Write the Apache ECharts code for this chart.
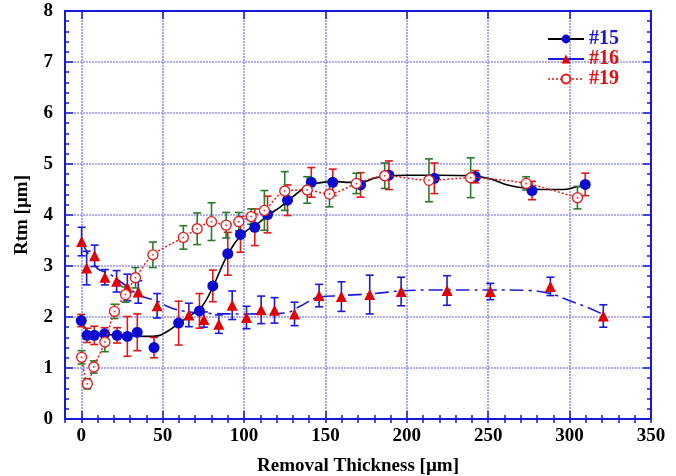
<!DOCTYPE html>
<html>
<head>
<meta charset="utf-8">
<script src="https://cdn.jsdelivr.net/npm/echarts@6/dist/echarts.min.js"></script>
<style>
  html, body { margin: 0; padding: 0; background: #fff; }
  #main { width: 676px; height: 476px; }
</style>
</head>
<body>
<div id="main"></div>
<script>
// #15 : blue dots, red error bars
var s15X = [0, 3.5, 8, 14.3, 22, 28.3, 34.4, 44.7, 59.8, 72.6, 80.8, 90, 97.8, 106.6, 114.4, 126.7, 141.3, 154.5, 171.6, 189, 216.9, 242.1, 276.9, 309.6];
var s15Y = [1.93, 1.64, 1.64, 1.67, 1.64, 1.62, 1.70, 1.40, 1.88, 2.12, 2.61, 3.24, 3.62, 3.76, 4.01, 4.29, 4.64, 4.64, 4.59, 4.78, 4.72, 4.75, 4.48, 4.60];
var s15Err = [0.12, 0.14, 0.18, 0.12, 0.15, 0.39, 0.36, 0.2, 0.43, 0.34, 0.31, 0.42, 0.35, 0.36, 0.36, 0.3, 0.29, 0.26, 0.24, 0.28, 0.30, 0.12, 0.18, 0.22];

// #16 : red triangles, blue error bars
var s16X = [0.2, 3.3, 8.2, 14.5, 21.7, 28.3, 35, 46.6, 66.1, 75.3, 84.5, 92.7, 101.5, 110.5, 118.7, 131, 146.1, 159.8, 177.2, 196.5, 224.7, 251.3, 288.2, 320.7];
var s16Y = [3.48, 2.96, 3.20, 2.78, 2.70, 2.58, 2.49, 2.22, 2.04, 1.95, 1.86, 2.23, 1.99, 2.14, 2.13, 2.06, 2.42, 2.40, 2.44, 2.50, 2.52, 2.50, 2.60, 2.02];
var s16Err = [0.28, 0.33, 0.21, 0.15, 0.21, 0.26, 0.22, 0.24, 0.23, 0.15, 0.18, 0.28, 0.22, 0.27, 0.25, 0.23, 0.22, 0.29, 0.38, 0.28, 0.29, 0.16, 0.18, 0.22];

// #19 : open red circles, green error bars
var s19X = [0.2, 3.7, 7.7, 14.5, 20.4, 27.2, 33.3, 44, 62.7, 71.2, 80, 89, 96.8, 104.4, 112.5, 125, 138.8, 152.5, 169, 186.4, 213.6, 239.2, 273.3, 304.8];
var s19Y = [1.21, 0.69, 1.02, 1.51, 2.11, 2.44, 2.77, 3.22, 3.56, 3.73, 3.87, 3.80, 3.87, 3.97, 4.09, 4.47, 4.49, 4.41, 4.62, 4.77, 4.68, 4.73, 4.62, 4.34];
var s19Err = [0.13, 0.1, 0.12, 0.19, 0.14, 0.15, 0.2, 0.25, 0.23, 0.31, 0.37, 0.25, 0.18, 0.15, 0.39, 0.38, 0.26, 0.25, 0.2, 0.25, 0.42, 0.39, 0.13, 0.22];

// fitted curves
var fit15X = [0, 3, 7, 12, 20, 30, 40, 47, 53, 60, 67, 74, 81, 88, 95, 101, 108, 115, 122, 130, 138, 146, 155, 165, 172, 180, 188, 200, 220, 240, 252, 262, 272, 285, 296, 304, 310];
var fit15Y = [1.93, 1.75, 1.67, 1.66, 1.65, 1.64, 1.62, 1.63, 1.72, 1.88, 2.03, 2.2, 2.6, 3.1, 3.48, 3.68, 3.82, 4.0, 4.15, 4.36, 4.55, 4.63, 4.66, 4.64, 4.64, 4.72, 4.77, 4.78, 4.78, 4.77, 4.70, 4.59, 4.53, 4.50, 4.50, 4.55, 4.58];
var fit16X = [0, 5, 10, 17, 28, 36, 46, 55, 64, 80, 100, 125, 135, 145, 160, 180, 200, 220, 250, 275, 288, 300, 310, 322];
var fit16Y = [3.48, 3.2, 2.95, 2.85, 2.6, 2.42, 2.32, 2.18, 2.11, 2.07, 2.06, 2.08, 2.22, 2.38, 2.42, 2.46, 2.52, 2.53, 2.53, 2.52, 2.46, 2.32, 2.2, 2.03];

var xMajor = [0, 50, 100, 150, 200, 250, 300, 350];

var AX = '#1818d8';
var FONT = '"Liberation Serif", "Times New Roman", serif';

function pairs(xs, ys) { return xs.map(function (x, i) { return [x, ys[i]]; }); }
function triples(xs, ys, es) { return xs.map(function (x, i) { return [x, ys[i], es[i]]; }); }

function errBar(color) {
  return function (params, api) {
    var x = api.value(0), y = api.value(1), e = api.value(2);
    var t = api.coord([x, y + e]), b = api.coord([x, y - e]);
    var st = { stroke: color, lineWidth: 1.6 };
    return {
      type: 'group',
      children: [
        { type: 'line', shape: { x1: t[0], y1: t[1], x2: b[0], y2: b[1] }, style: st },
        { type: 'line', shape: { x1: t[0] - 4, y1: t[1], x2: t[0] + 4, y2: t[1] }, style: st },
        { type: 'line', shape: { x1: b[0] - 4, y1: b[1], x2: b[0] + 4, y2: b[1] }, style: st }
      ]
    };
  };
}

var gridLine = { show: true, lineStyle: { color: '#9494ec', width: 1.6, type: [2, 1] } };

var myChart = echarts.init(document.getElementById('main'));
var option = {
  animation: false,
  backgroundColor: '#fff',
  grid: { left: 65, right: 25, top: 11, bottom: 57, show: false, containLabel: false, outerBoundsMode: 'none' },
  legend: {
    orient: 'vertical', left: 542, top: 24,
    itemWidth: 36, itemHeight: 11, itemGap: 0,
    textStyle: { fontFamily: FONT, fontWeight: 'bold', fontSize: 20 },
    data: [
      { name: '#15', textStyle: { color: '#1a1ad0' }, lineStyle: { color: '#000', width: 2, opacity: 1, type: 'solid' } },
      { name: '#16', textStyle: { color: '#e01010' }, lineStyle: { color: '#1a1ad8', width: 2, opacity: 1, type: 'solid' } },
      { name: '#19', textStyle: { color: '#e01010' }, lineStyle: { color: '#e01010', width: 1.5, opacity: 1, type: [2, 2] } }
    ]
  },
  xAxis: [
    {
      type: 'value', position: 'bottom', min: -10, max: 350,
      name: 'Removal Thickness [µm]', nameLocation: 'middle', nameGap: 38,
      nameTextStyle: { fontFamily: FONT, fontWeight: 'bold', fontSize: 19, color: '#000' },
      axisLine: { show: true, onZero: false, lineStyle: { color: AX, width: 2 } },
      axisTick: { show: true, inside: true, length: 8, customValues: xMajor, lineStyle: { color: AX, width: 1.5 } },
      axisLabel: { customValues: xMajor, margin: 8, fontFamily: FONT, fontWeight: 'bold', fontSize: 19, color: '#000' },
      splitLine: gridLine
    },
    {
      type: 'value', position: 'bottom', min: -10, max: 350, interval: 10,
      axisLine: { show: false }, axisLabel: { show: false }, splitLine: { show: false },
      axisTick: { show: true, inside: true, length: 4, lineStyle: { color: AX, width: 1.5 } }
    },
    {
      type: 'value', position: 'top', min: -10, max: 350,
      axisLine: { show: true, onZero: false, lineStyle: { color: AX, width: 2 } },
      axisTick: { show: true, inside: true, length: 8, customValues: xMajor, lineStyle: { color: AX, width: 1.5 } },
      axisLabel: { show: false }, splitLine: { show: false }
    },
    {
      type: 'value', position: 'top', min: -10, max: 350, interval: 10,
      axisLine: { show: false }, axisLabel: { show: false }, splitLine: { show: false },
      axisTick: { show: true, inside: true, length: 4, lineStyle: { color: AX, width: 1.5 } }
    }
  ],
  yAxis: [
    {
      type: 'value', position: 'left', min: 0, max: 8, interval: 1,
      name: 'Rtm [µm]', nameLocation: 'middle', nameGap: 33,
      nameTextStyle: { fontFamily: FONT, fontWeight: 'bold', fontSize: 19, color: '#000' },
      axisLine: { show: true, onZero: false, lineStyle: { color: AX, width: 2 } },
      axisTick: { show: true, inside: true, length: 8, lineStyle: { color: AX, width: 1.5 } },
      minorTick: { show: true, splitNumber: 5, length: 4, lineStyle: { color: AX, width: 1.5 } },
      axisLabel: { margin: 12, padding: [8, 0, 0, 0], fontFamily: FONT, fontWeight: 'bold', fontSize: 19, color: '#000' },
      splitLine: gridLine
    },
    {
      type: 'value', position: 'right', min: 0, max: 8, interval: 1,
      axisLine: { show: true, onZero: false, lineStyle: { color: AX, width: 2 } },
      axisTick: { show: true, inside: true, length: 8, lineStyle: { color: AX, width: 1.5 } },
      minorTick: { show: true, splitNumber: 5, length: 4, lineStyle: { color: AX, width: 1.5 } },
      axisLabel: { show: false }, splitLine: { show: false }
    }
  ],
  series: [
    {
      name: 'fit15', type: 'line', smooth: 0.4, showSymbol: false, silent: true, z: 2,
      data: pairs(fit15X, fit15Y), lineStyle: { color: '#000', width: 1.6 }
    },
    {
      name: 'fit16', type: 'line', smooth: 0.4, showSymbol: false, silent: true, z: 2,
      data: pairs(fit16X, fit16Y), lineStyle: { color: '#1a1ad8', width: 1.6, type: [14, 5, 3, 5] }
    },
    { name: 'e16', type: 'custom', z: 3, renderItem: errBar('#1a1ad8'), encode: { x: 0, y: 1 }, data: triples(s16X, s16Y, s16Err) },
    { name: 'e15', type: 'custom', z: 3, renderItem: errBar('#e01818'), encode: { x: 0, y: 1 }, data: triples(s15X, s15Y, s15Err) },
    { name: 'e19', type: 'custom', z: 3, renderItem: errBar('#2a7a2a'), encode: { x: 0, y: 1 }, data: triples(s19X, s19Y, s19Err) },
    {
      name: '#16', type: 'line', z: 5, symbol: 'triangle', symbolSize: 11, showAllSymbol: true,
      data: pairs(s16X, s16Y),
      itemStyle: { color: '#e00000' }, lineStyle: { width: 0, opacity: 0 }
    },
    {
      name: '#15', type: 'line', z: 6, symbol: 'circle', symbolSize: 11, showAllSymbol: true,
      data: pairs(s15X, s15Y),
      itemStyle: { color: '#0a0ad0' }, lineStyle: { width: 0, opacity: 0 }
    },
    {
      name: '#19', type: 'line', z: 7, smooth: 0.25, symbol: 'circle', symbolSize: 10, showAllSymbol: true,
      data: pairs(s19X, s19Y),
      itemStyle: { color: '#fff', borderColor: '#e81818', borderWidth: 1.3 },
      lineStyle: { color: '#e81818', width: 1.5, type: [2, 2] }
    },
    {
      name: 'dot19', type: 'scatter', z: 8, symbol: 'circle', symbolSize: 2, silent: true,
      data: pairs(s19X, s19Y), itemStyle: { color: '#e81818' }
    }
  ]
};
myChart.setOption(option);
window.addEventListener('resize', myChart.resize);
</script>
</body>
</html>
